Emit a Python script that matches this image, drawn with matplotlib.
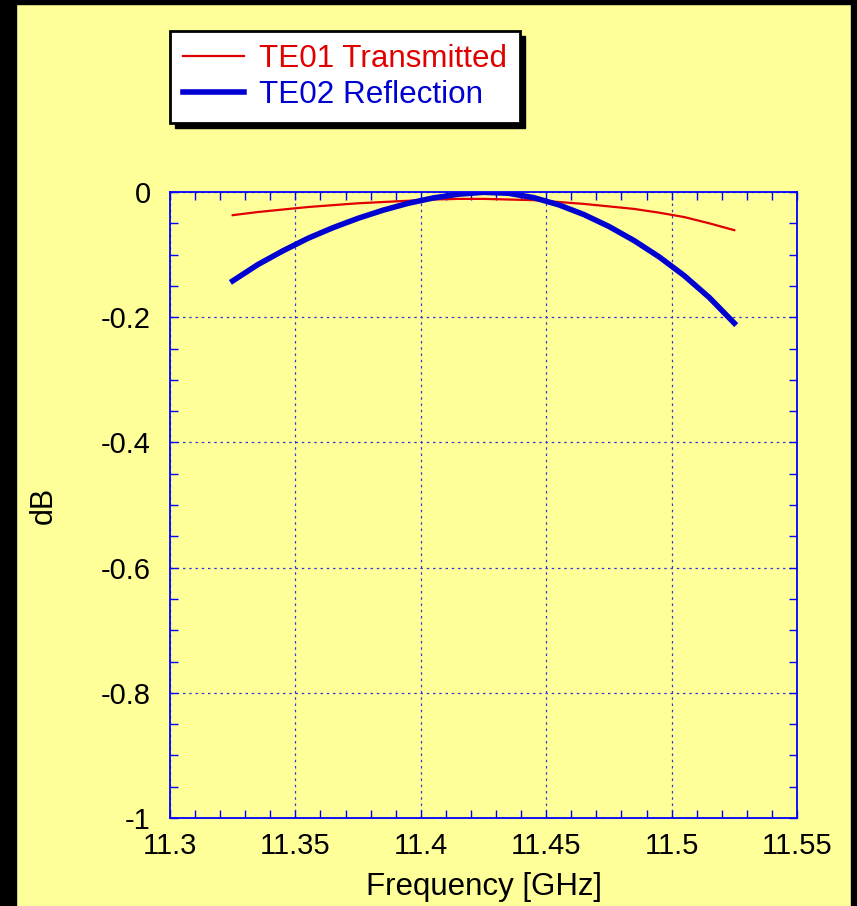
import numpy as np
import matplotlib
matplotlib.use("Agg")
import matplotlib.pyplot as plt
from matplotlib.patches import Rectangle
from matplotlib.ticker import MultipleLocator, FuncFormatter

# Mode power vs frequency (dB)
freq = [11.325, 11.335, 11.345, 11.355, 11.365, 11.375, 11.385, 11.395, 11.405, 11.415, 11.425,
        11.435, 11.445, 11.455, 11.465, 11.475, 11.485, 11.495, 11.505, 11.515, 11.525]
te01_trans = [-0.037, -0.032, -0.028, -0.024, -0.021, -0.018, -0.016, -0.014, -0.012, -0.011, -0.011,
              -0.012, -0.013, -0.016, -0.019, -0.023, -0.027, -0.033, -0.040, -0.050, -0.061]
te02_refl = [-0.142, -0.116, -0.094, -0.074, -0.057, -0.042, -0.029, -0.018, -0.0095, -0.0035, -0.0005,
             -0.002, -0.009, -0.0205, -0.036, -0.055, -0.0775, -0.1035, -0.1335, -0.1685, -0.2095]

plt.rcParams['font.family'] = ['Liberation Sans', 'DejaVu Sans']
plt.rcParams['axes.unicode_minus'] = False

W, H = 857, 906
bg = '#ffff99'
fig = plt.figure(figsize=(W / 100, H / 100), dpi=100, facecolor=bg)

# black frame on left, top and right edges
fig.add_artist(Rectangle((0, 0), 16 / W, 1, transform=fig.transFigure, color='black'))
fig.add_artist(Rectangle((0, 1 - 4 / H), 1, 4 / H, transform=fig.transFigure, color='black'))
fig.add_artist(Rectangle((851 / W, 0), 6 / W, 1, transform=fig.transFigure, color='black'))

ax = fig.add_axes([170 / W, 1 - 818 / H, 627 / W, 626 / H])
ax.set_facecolor(bg)

ax.plot(freq, te01_trans, color='#e00000', lw=1.6, label='TE01 Transmitted')
ax.plot(freq, te02_refl, color='#0000d0', lw=4.0, label='TE02 Reflection',
        solid_joinstyle='round')

ax.set_xlim(11.3, 11.55)
ax.set_ylim(-1, 0)
ax.xaxis.set_major_locator(MultipleLocator(0.05))
ax.xaxis.set_minor_locator(MultipleLocator(0.01))
ax.yaxis.set_major_locator(MultipleLocator(0.2))
ax.yaxis.set_minor_locator(MultipleLocator(0.05))
ax.xaxis.set_major_formatter(FuncFormatter(lambda v, p: '%g' % round(v, 3)))
ax.yaxis.set_major_formatter(FuncFormatter(lambda v, p: '%g' % round(v, 3)))

for s in ax.spines.values():
    s.set_color('#0000ff')
    s.set_linewidth(1.3)
ax.tick_params(which='both', direction='in', top=True, right=True, color='#0000ff',
               labelcolor='black', labelsize=21)
ax.tick_params(which='both', length=6, width=1)
ax.tick_params(axis='y', pad=14)
ax.tick_params(axis='x', pad=10)
ax.grid(True, which='major', color='#3838d0', linestyle=(0, (2, 3)), linewidth=0.9)

ax.set_xlabel('Frequency [GHz]', fontsize=22.5, labelpad=9)
ax.set_ylabel('dB', fontsize=22, labelpad=30)

leg = fig.legend(loc='upper left', bbox_to_anchor=(170 / W, 1 - 31 / H), bbox_transform=fig.transFigure,
                 borderaxespad=0, fontsize=22.6, fancybox=False, framealpha=1, edgecolor='black',
                 facecolor='white', labelcolor='linecolor', handlelength=1.95, handletextpad=0.47,
                 labelspacing=0.17, borderpad=0.42)
leg.get_frame().set_linewidth(2)

# offset black shadow behind the legend box
fig.canvas.draw()
bb = leg.get_window_extent()
fig.add_artist(Rectangle(((bb.x0 + 5) / W, (bb.y0 - 5) / H), bb.width / W, bb.height / H,
                         transform=fig.transFigure, color='black', zorder=leg.get_zorder() - 0.5))

fig.savefig('out.png', dpi=100, facecolor=bg)
